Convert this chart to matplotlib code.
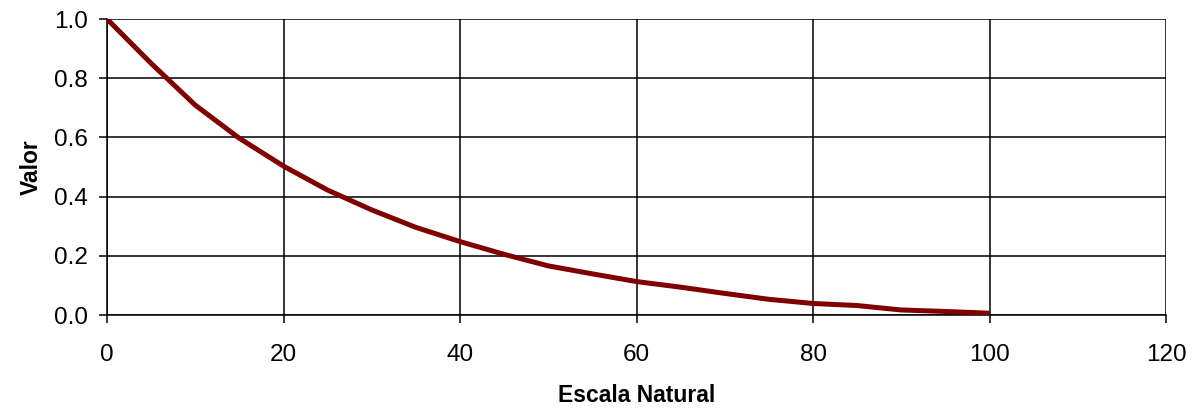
import matplotlib
matplotlib.use("Agg")
import matplotlib.pyplot as plt

plt.rcParams["font.family"] = ["Liberation Sans", "DejaVu Sans"]

escala = [0, 5, 10, 15, 20, 25, 30, 35, 40, 45, 50,
          55, 60, 65, 70, 75, 80, 85, 90, 95, 100]
valor = [1.0, 0.85, 0.709, 0.597, 0.503, 0.422, 0.355, 0.296, 0.248, 0.205, 0.166,
         0.139, 0.113, 0.094, 0.073, 0.053, 0.039, 0.032, 0.017, 0.012, 0.006]

x_ticks = [0, 20, 40, 60, 80, 100, 120]
y_ticks = [0.0, 0.2, 0.4, 0.6, 0.8, 1.0]

fig = plt.figure(figsize=(11.92, 4.09), dpi=100)
ax = fig.add_axes([0.0898, 0.2298, 0.8884, 0.7237])

ax.plot(escala, valor, color="#800000", linewidth=3.6, solid_capstyle="butt", zorder=3)

ax.set_xlim(0, 120)
ax.set_ylim(0, 1.0)
ax.set_xticks(x_ticks)
ax.set_yticks(y_ticks)
ax.set_yticklabels([f"{v:.1f}" for v in y_ticks])
ax.grid(True, color="black", linewidth=1.1)
ax.tick_params(axis="both", direction="out", length=6, width=1.1, labelsize=17.5)
ax.tick_params(axis="x", pad=15)
ax.tick_params(axis="y", pad=8)

for side in ["top", "right"]:
    ax.spines[side].set_visible(False)
for side in ["left", "bottom"]:
    ax.spines[side].set_linewidth(1.1)

ax.set_xlabel("Escala Natural", fontsize=16.5, fontweight="bold", labelpad=13)
ax.set_ylabel("Valor", fontsize=16.5, fontweight="bold", labelpad=8)

fig.savefig("out.png", dpi=100)
